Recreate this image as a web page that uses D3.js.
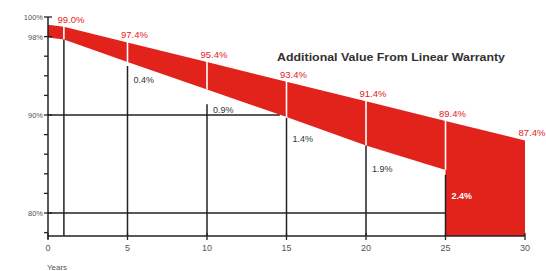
<!DOCTYPE html>
<html lang="en">
<head>
    <meta charset="UTF-8">
    <title>Linear Warranty</title>
    <style>
        body { margin: 0; background: #fff; }
        text { font-family: "Liberation Sans", Arial, sans-serif; }
    </style>
</head>
<body>
    <div id="chart"></div>
    <script src="https://d3js.org/d3.v7.min.js"></script>
    <script>
        // upper edge: linear warranty
        var years = [0, 1, 5, 10, 15, 20, 25, 30];
        var linearWarranty = [99.2, 99.0, 97.4, 95.4, 93.4, 91.4, 89.4, 87.4];

        // lower edge of the red band
        var bandYears = [0, 1, 5, 10, 15, 20, 25];
        var lowerEdge = [97.9, 97.7, 95.4, 92.6, 89.8, 86.9, 84.4];

        // black drop lines below the band
        var dropYears = [1, 5, 10, 15, 20, 25];
        var dropTop = [97.7, 95.0, 91.1, 89.7, 86.9, 83.9];

        var valueYears = [1, 5, 10, 15, 20, 25, 30];
        var valueLabels = ["99.0%", "97.4%", "95.4%", "93.4%", "91.4%", "89.4%", "87.4%"];

        var diffYears = [5, 10, 15, 20, 25];
        var diffLabels = ["0.4%", "0.9%", "1.4%", "1.9%", "2.4%"];

        var yTicks = [78, 80, 82, 84, 86, 88, 90, 92, 94, 96, 98, 100];
        var yLabels = [80, 90, 98, 100];
        var xTicks = [0, 5, 10, 15, 20, 25, 30];
        var guideLevels = [90, 80];

        var width = 546, height = 271;
        var red = "#e2231c", ink = "#222";

        var svg = d3.select("#chart").append("svg")
            .attr("width", width)
            .attr("height", height);

        var x = d3.scaleLinear().domain([0, 30]).range([48, 525]);
        var y = d3.scaleLinear().domain([80, 100]).range([213, 17]);
        var yBottom = 77.65;

        var upper = years.map(function(d, i) { return {yr: d, v: linearWarranty[i]}; });
        function upperAt(yr) {
            return d3.scaleLinear().domain(years).range(linearWarranty)(yr);
        }
        function lowerAt(yr) {
            return d3.scaleLinear().domain(bandYears).range(lowerEdge)(yr);
        }

        // red band years 0-25
        var band = bandYears.map(function(d, i) { return {yr: d, hi: upperAt(d), lo: lowerEdge[i]}; });
        svg.append("path")
            .datum(band)
            .attr("fill", red)
            .attr("d", d3.area()
                .x(function(d) { return x(d.yr); })
                .y0(function(d) { return y(d.lo); })
                .y1(function(d) { return y(d.hi); }));

        // red block years 25-30
        var block = upper.filter(function(d) { return d.yr >= 25; });
        svg.append("path")
            .datum(block)
            .attr("fill", red)
            .attr("d", d3.area()
                .x(function(d) { return x(d.yr); })
                .y0(y(yBottom))
                .y1(function(d) { return y(d.v); }));

        // white dividers through the band
        svg.selectAll(".divider")
            .data(dropYears)
            .enter().append("line")
            .attr("x1", function(d) { return x(d); })
            .attr("x2", function(d) { return x(d); })
            .attr("y1", function(d) { return y(upperAt(d)) - 1; })
            .attr("y2", function(d) { return y(lowerAt(d)); })
            .attr("stroke", "#fff")
            .attr("stroke-width", 1.6);

        // black drop lines
        svg.selectAll(".drop")
            .data(dropYears)
            .enter().append("line")
            .attr("x1", function(d) { return x(d); })
            .attr("x2", function(d) { return x(d); })
            .attr("y1", function(d, i) { return y(dropTop[i]); })
            .attr("y2", y(yBottom))
            .attr("stroke", ink)
            .attr("stroke-width", 1.5);

        // horizontal guides: 90% runs to the band, 80% to year 25
        var lowerInv = d3.scaleLinear().domain(lowerEdge).range(bandYears);
        svg.selectAll(".guide")
            .data(guideLevels)
            .enter().append("line")
            .attr("x1", x(0))
            .attr("x2", function(d) { return d === 80 ? x(25) : x(lowerInv(d)) - 1; })
            .attr("y1", function(d) { return y(d); })
            .attr("y2", function(d) { return y(d); })
            .attr("stroke", ink)
            .attr("stroke-width", 1.5);

        // axes
        svg.append("line")
            .attr("x1", x(0)).attr("x2", x(0))
            .attr("y1", y(100)).attr("y2", y(yBottom) + 3)
            .attr("stroke", ink).attr("stroke-width", 1.5);
        svg.append("line")
            .attr("x1", x(0)).attr("x2", x(30))
            .attr("y1", y(yBottom)).attr("y2", y(yBottom))
            .attr("stroke", ink).attr("stroke-width", 1.5);

        svg.selectAll(".ytick")
            .data(yTicks)
            .enter().append("line")
            .attr("x1", x(0) - 4)
            .attr("x2", function(d) { return yLabels.indexOf(d) >= 0 ? x(0) + 4 : x(0); })
            .attr("y1", function(d) { return y(d); })
            .attr("y2", function(d) { return y(d); })
            .attr("stroke", ink).attr("stroke-width", 1.3);

        svg.selectAll(".ylabel")
            .data(yLabels)
            .enter().append("text")
            .attr("x", x(0) - 5)
            .attr("y", function(d) { return y(d) + 3; })
            .attr("text-anchor", "end")
            .attr("font-size", 7.5)
            .attr("fill", "#555")
            .text(function(d) { return d + "%"; });

        svg.selectAll(".xtick")
            .data(xTicks)
            .enter().append("line")
            .attr("x1", function(d) { return x(d); })
            .attr("x2", function(d) { return x(d); })
            .attr("y1", y(yBottom) - 3)
            .attr("y2", y(yBottom) + 4)
            .attr("stroke", ink).attr("stroke-width", 1.3);

        svg.selectAll(".xlabel")
            .data(xTicks)
            .enter().append("text")
            .attr("x", function(d) { return x(d); })
            .attr("y", y(yBottom) + 15)
            .attr("text-anchor", "middle")
            .attr("font-size", 9)
            .attr("fill", "#555")
            .text(function(d) { return d; });

        svg.append("text")
            .attr("x", 57).attr("y", 270)
            .attr("text-anchor", "middle")
            .attr("font-size", 8)
            .attr("fill", "#555")
            .text("Years");

        // red value labels above the upper edge
        svg.selectAll(".vlabel")
            .data(valueYears)
            .enter().append("text")
            .attr("x", function(d) { return x(d) + 7; })
            .attr("y", function(d) { return y(upperAt(d)) - 4; })
            .attr("text-anchor", "middle")
            .attr("font-size", 9.5)
            .attr("fill", red)
            .text(function(d, i) { return valueLabels[i]; });

        // difference labels
        svg.selectAll(".dlabel")
            .data(diffYears)
            .enter().append("text")
            .attr("x", function(d) { return x(d) + 6; })
            .attr("y", function(d, i) { return y(lowerAt(d)) + 21 + i * 2; })
            .attr("font-size", 9)
            .attr("font-weight", function(d) { return d === 25 ? "bold" : "normal"; })
            .attr("fill", function(d) { return d === 25 ? "#fff" : "#333"; })
            .text(function(d, i) { return diffLabels[i]; });

        svg.append("text")
            .attr("x", 277).attr("y", 61)
            .attr("font-size", 11)
            .attr("font-weight", "bold")
            .attr("fill", "#333")
            .attr("textLength", 228)
            .attr("lengthAdjust", "spacingAndGlyphs")
            .text("Additional Value From Linear Warranty");
    </script>
</body>
</html>
